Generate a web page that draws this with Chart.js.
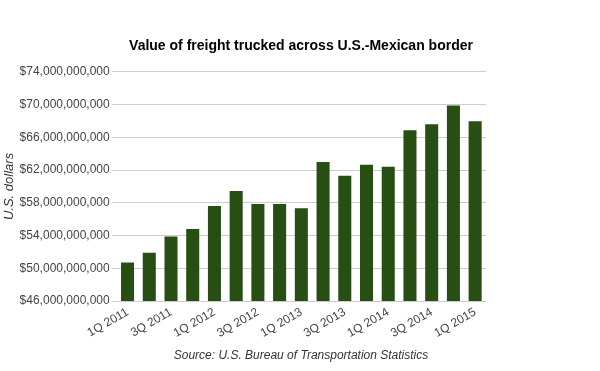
<!DOCTYPE html>
<html>
<head>
<meta charset="utf-8">
<script src="https://cdn.jsdelivr.net/npm/chart.js@4/dist/chart.umd.min.js"></script>
<style>
html,body{margin:0;padding:0;background:#fff;}
#wrap{width:600px;height:371px;}
</style>
</head>
<body>
<div id="wrap"><canvas id="c" width="600" height="371"></canvas></div>
<script>
const categories = ["1Q 2011","2Q 2011","3Q 2011","4Q 2011","1Q 2012","2Q 2012","3Q 2012","4Q 2012","1Q 2013","2Q 2013","3Q 2013","4Q 2013","1Q 2014","2Q 2014","3Q 2014","4Q 2014","1Q 2015"];
const freightValues = [50.7e9,51.9e9,53.9e9,54.8e9,57.6e9,59.45e9,57.85e9,57.85e9,57.35e9,63.0e9,61.3e9,62.65e9,62.4e9,66.85e9,67.6e9,69.9e9,67.95e9];
const yTickMin = 46e9, yTickMax = 74e9, yTickStep = 4e9;

const FONT = "'Liberation Sans', Arial, sans-serif";
new Chart(document.getElementById('c'), {
  type: 'bar',
  data: {
    labels: categories,
    datasets: [{
      data: freightValues,
      backgroundColor: '#274e13',
      borderWidth: 0,
      barPercentage: 0.6,
      categoryPercentage: 1.0
    }]
  },
  options: {
    responsive: false,
    animation: false,
    devicePixelRatio: 1,
    layout: { padding: { left: 2, right: 0, top: 10, bottom: 4 } },
    plugins: {
      legend: { display: false },
      tooltip: { enabled: false },
      title: {
        display: true,
        text: 'Value of freight trucked across U.S.-Mexican border',
        color: '#000',
        font: { family: FONT, size: 14, weight: 'bold' },
        padding: { top: 28, bottom: 17 }
      },
      subtitle: {
        display: true,
        position: 'bottom',
        text: 'Source: U.S. Bureau of Transportation Statistics',
        color: '#333',
        font: { family: FONT, size: 12, style: 'italic' },
        padding: { top: 4, bottom: 4 }
      }
    },
    scales: {
      x: {
        grid: { display: false, drawTicks: false },
        border: { display: false },
        ticks: {
          autoSkip: false,
          maxRotation: 30,
          minRotation: 30,
          color: '#444',
          font: { family: FONT, size: 12 },
          padding: 4,
          callback: function(v, i) { return i % 2 === 0 ? categories[i] : ''; }
        }
      },
      y: {
        min: yTickMin,
        max: yTickMax,
        grid: { color: '#cccccc', lineWidth: 1, tickLength: 5, tickColor: '#cccccc' },
        border: { display: false },
        ticks: {
          stepSize: yTickStep,
          color: '#444',
          font: { family: FONT, size: 12 },
          padding: 2,
          callback: function(v) { return '$' + Number(v).toLocaleString('en-US'); }
        },
        title: {
          display: true,
          text: 'U.S. dollars',
          color: '#333',
          font: { family: FONT, size: 13, style: 'italic' },
          padding: 0
        }
      },
      yRight: {
        position: 'right',
        display: true,
        min: yTickMin,
        max: yTickMax,
        grid: { display: false, drawTicks: false },
        border: { display: false },
        ticks: { display: false },
        afterFit: function(scale) { scale.width = 114; }
      }
    }
  }
});
</script>
</body>
</html>
